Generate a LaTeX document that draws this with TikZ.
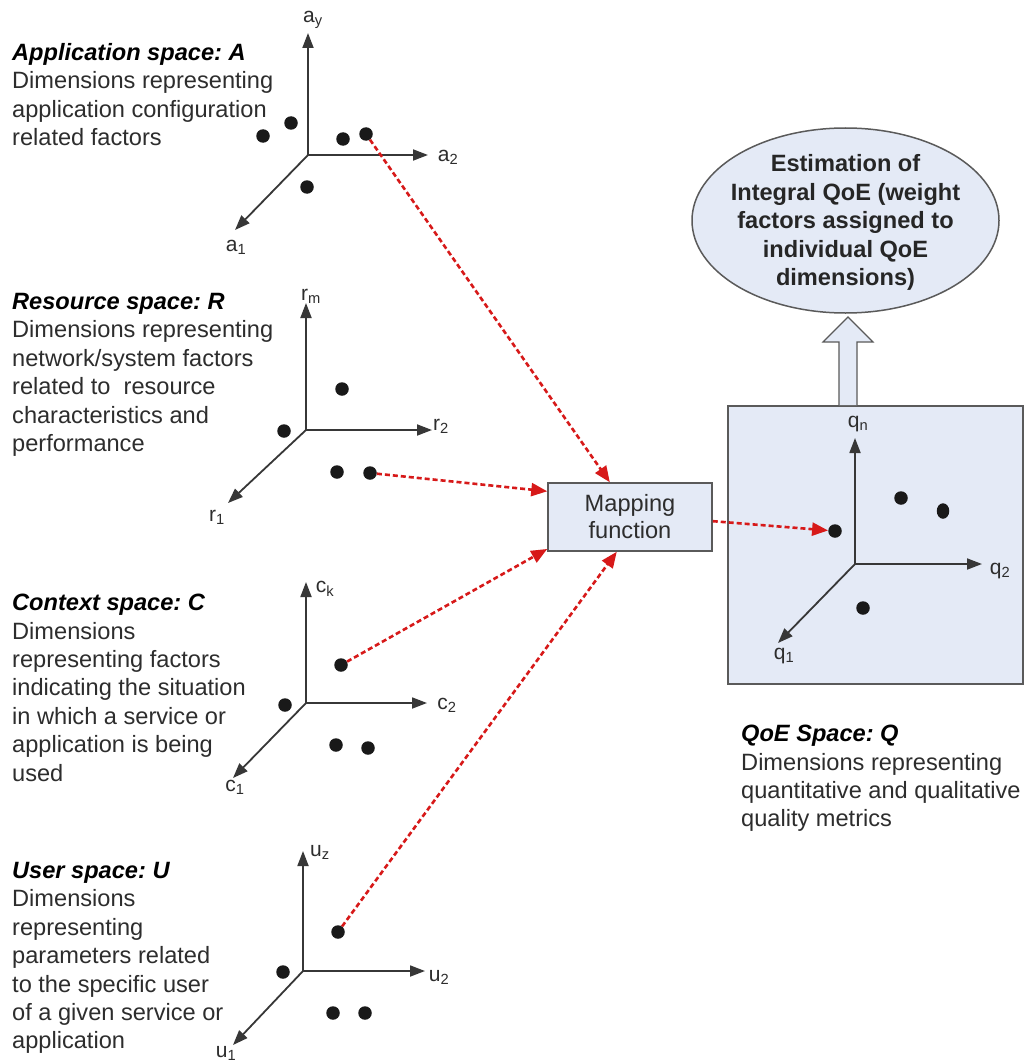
\documentclass[tikz,border=0pt]{standalone}
\usepackage{fontspec}
\setmainfont{Liberation Sans}
\usetikzlibrary{arrows.meta,calc,shapes.geometric}

\definecolor{boxfill}{RGB}{228,234,246}
\definecolor{boxline}{RGB}{90,90,90}
\definecolor{axiscol}{RGB}{55,55,55}
\definecolor{txt}{RGB}{45,45,45}
\definecolor{mapred}{RGB}{215,25,25}

\tikzset{
  axis/.style={draw=axiscol, line width=1.8pt, -{Triangle[length=15pt,width=11pt]}},
  pt/.style={circle, fill=black!90, inner sep=0pt, minimum size=13.5pt},
  axlabel/.style={inner sep=0pt, text=txt, font=\fontsize{21}{24}\selectfont},
  desc/.style={anchor=north west, inner sep=0pt, align=left, text=txt,
               font=\fontsize{23.6}{28.4}\selectfont},
  mapline/.style={draw=mapred, line width=2.6pt, dash pattern=on 5pt off 3pt,
                  -{Triangle[length=16pt,width=13pt]}},
  panel/.style={draw=boxline, fill=boxfill, line width=1.5pt},
}

% origin, end of vertical axis, end of horizontal axis, end of oblique axis
\newcommand\drawaxes[7]{%
  \coordinate (#1o) at (#2,#3);
  \coordinate (#1up) at (#2,#4);
  \coordinate (#1rt) at (#5,#3);
  \coordinate (#1dl) at (#6,#7);
  \draw[axis] (#1o) -- (#1up);
  \draw[axis] (#1o) -- (#1rt);
  \draw[axis] (#1o) -- (#1dl);
}
\newcommand\spacetitle[1]{{\color{black}\bfseries\itshape #1}}

\begin{document}
\frenchspacing
\begin{tikzpicture}[x=1pt,y=-1pt]
\useasboundingbox (0,0) rectangle (1031,1062);
\fill[white] (0,0) rectangle (1031,1062);

% ---------- descriptions of the input spaces ----------
\node[desc] (tA) at (12,43) {\spacetitle{Application space: A}\\
  Dimensions representing\\application configuration\\related factors};
\node[desc] (tR) at (12,293) {\spacetitle{Resource space: R}\\
  Dimensions representing\\network/system factors\\related to~~resource\\
  characteristics and\\performance};
\node[desc] (tC) at (12,594) {\spacetitle{Context space: C}\\
  Dimensions\\representing factors\\indicating the situation\\
  in which a service or\\application is being\\used};
\node[desc] (tU) at (12,862) {\spacetitle{User space: U}\\
  Dimensions\\representing\\parameters related\\to the specific user\\
  of a given service or\\application};
\node[desc] (tQ) at (741,725) {\spacetitle{QoE Space: Q}\\
  Dimensions representing\\quantitative and qualitative\\quality metrics};

% ---------- QoE panel, estimation ellipse and block arrow ----------
\node[panel, rectangle, anchor=north west, inner sep=0pt,
      minimum width=295pt, minimum height=278pt] (qbox) at (727,405) {};
\coordinate (upbase) at (848,405);
\coordinate (uptip) at (848,317);
\filldraw[panel, line width=1.2pt]
  ($(upbase)+(-9,0)$) -- ($(upbase)+(-9,-63)$) -- ($(upbase)+(-25,-63)$)
  -- (uptip) -- ($(upbase)+(25,-63)$) -- ($(upbase)+(9,-63)$)
  -- ($(upbase)+(9,0)$);
\node[panel, ellipse, inner sep=0pt, minimum width=307pt, minimum height=185pt]
  (est) at (845.5,220.5) {};
\node[inner sep=0pt, align=center, text=black!85,
      font=\bfseries\fontsize{23.6}{28.5}\selectfont] (esttext) at ([yshift=-2pt]est.center)
  {Estimation of\\Integral QoE (weight\\factors assigned to\\individual QoE\\dimensions)};

% ---------- mapping function ----------
\node[panel, inner sep=0pt, minimum width=164pt, minimum height=68pt, align=center,
      text=txt, font=\fontsize{23.6}{27}\selectfont] (map) at (630,517) {Mapping\\function};

% ---------- coordinate systems ----------
\drawaxes{A}{308}{155}{33}{428}{235}{230}
\drawaxes{R}{306}{430}{303}{432}{228}{503}
\drawaxes{C}{306}{703}{582}{427}{233}{778}
\drawaxes{U}{303}{971}{851}{425}{233}{1045}
\drawaxes{Q}{855}{564}{438}{982}{778}{643}

\node[axlabel] (lAy) at (313,20) {a\textsubscript{y}};
\node[axlabel] (lA2) at (448,157) {a\textsubscript{2}};
\node[axlabel] (lA1) at (236,247) {a\textsubscript{1}};
\node[axlabel] (lRm) at (311,296) {r\textsubscript{m}};
\node[axlabel] (lR2) at (441,426) {r\textsubscript{2}};
\node[axlabel] (lR1) at (217,517) {r\textsubscript{1}};
\node[axlabel] (lCk) at (325,589) {c\textsubscript{k}};
\node[axlabel] (lC2) at (447,705) {c\textsubscript{2}};
\node[axlabel] (lC1) at (235,787) {c\textsubscript{1}};
\node[axlabel] (lUz) at (320,852) {u\textsubscript{z}};
\node[axlabel] (lU2) at (439,977) {u\textsubscript{2}};
\node[axlabel] (lU1) at (226,1053) {u\textsubscript{1}};
\node[axlabel] (lQn) at (858,424) {q\textsubscript{n}};
\node[axlabel] (lQ2) at (1000,571) {q\textsubscript{2}};
\node[axlabel] (lQ1) at (784,656) {q\textsubscript{1}};

% ---------- sample points ----------
\node[pt] (a1) at (263,136) {};
\node[pt] (a2) at (291,123) {};
\node[pt] (a3) at (343,139) {};
\node[pt] (a4) at (366,134) {};
\node[pt] (a5) at (307,187) {};

\node[pt] (r1) at (284,431) {};
\node[pt] (r2) at (342,389) {};
\node[pt] (r3) at (337,472) {};
\node[pt] (r4) at (370,473) {};

\node[pt] (c1) at (341,665) {};
\node[pt] (c2) at (285,705) {};
\node[pt] (c3) at (336,745) {};
\node[pt] (c4) at (368,748) {};

\node[pt] (u1) at (283,972) {};
\node[pt] (u2) at (338,932) {};
\node[pt] (u3) at (333,1013) {};
\node[pt] (u4) at (365,1013) {};

\node[pt] (q1) at (835,531) {};
\node[pt] (q2) at (901,498) {};
\node[pt, minimum width=12.5pt, minimum height=15.5pt, ellipse] (q3) at (943,511) {};
\node[pt] (q4) at (863,608) {};

% ---------- mapping connectors ----------
\draw[mapline] (a4) -- ($(map.north west)!0.378!(map.north east)$);
\draw[mapline] (r4) -- ($(map.north west)!0.13!(map.south west)$);
\draw[mapline] (c1) -- ($(map.north west)!0.96!(map.south west)$);
\draw[mapline] (u2) -- ($(map.south west)!0.42!(map.south east)$);
\draw[mapline] ($(map.north east)!0.56!(map.south east)$) -- (q1);
\end{tikzpicture}
\end{document}
